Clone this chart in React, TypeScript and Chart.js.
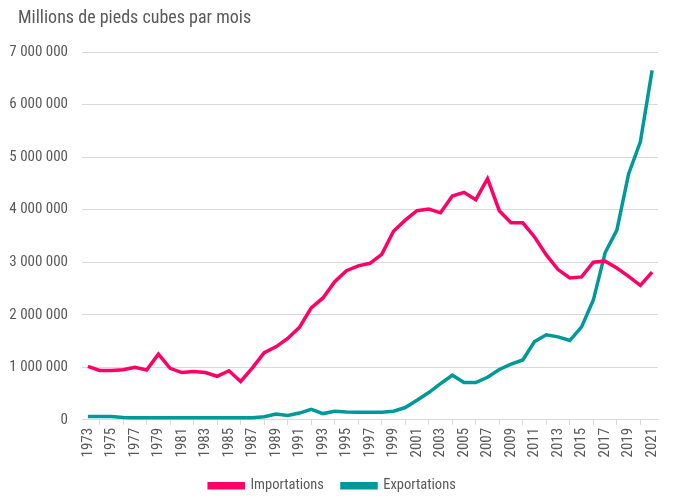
import { useEffect, useRef } from "react";
import { Chart, registerables } from "chart.js";

Chart.register(...registerables);

const TITLE = "Millions de pieds cubes par mois";

const years = [
  "1973", "1974", "1975", "1976", "1977", "1978", "1979", "1980", "1981", "1982",
  "1983", "1984", "1985", "1986", "1987", "1988", "1989", "1990", "1991", "1992",
  "1993", "1994", "1995", "1996", "1997", "1998", "1999", "2000", "2001", "2002",
  "2003", "2004", "2005", "2006", "2007", "2008", "2009", "2010", "2011", "2012",
  "2013", "2014", "2015", "2016", "2017", "2018", "2019", "2020", "2021",
];

// values in millions of cubic feet per month
const importations = [
  1020000, 940000, 940000, 955000, 1000000, 950000, 1250000, 980000, 900000, 920000,
  900000, 830000, 935000, 730000, 990000, 1280000, 1390000, 1550000, 1760000, 2130000,
  2320000, 2630000, 2840000, 2930000, 2980000, 3150000, 3590000, 3800000, 3980000, 4010000,
  3940000, 4260000, 4330000, 4190000, 4590000, 3980000, 3750000, 3750000, 3480000, 3140000,
  2860000, 2700000, 2720000, 3000000, 3020000, 2890000, 2730000, 2560000, 2810000,
];

const exportations = [
  63000, 63000, 63000, 45000, 40000, 40000, 40000, 40000, 40000, 40000,
  40000, 40000, 40000, 40000, 40000, 60000, 110000, 85000, 130000, 200000,
  120000, 165000, 150000, 145000, 145000, 145000, 165000, 235000, 375000, 520000,
  690000, 850000, 710000, 710000, 810000, 960000, 1060000, 1140000, 1490000, 1620000,
  1580000, 1510000, 1770000, 2280000, 3180000, 3610000, 4680000, 5290000, 6650000,
];

const yTicks = [0, 1000000, 2000000, 3000000, 4000000, 5000000, 6000000, 7000000];

const FONT = "'Roboto Condensed', 'Liberation Sans Narrow', 'DejaVu Sans Condensed', Roboto";
const TEXT = "#595959";
const GRID = "#d9d9d9";
const PINK = "#ff0066";
const TEAL = "#009999";

const titlePlugin = {
  id: "topTitle",
  afterDraw(chart: Chart) {
    const ctx = chart.ctx;
    ctx.save();
    ctx.font = "18px " + FONT;
    ctx.fillStyle = TEXT;
    ctx.textBaseline = "middle";
    ctx.textAlign = "left";
    ctx.fillText(TITLE, 18, 18);
    ctx.restore();
  },
};

const fmt = (v: number) => String(v).replace(/\B(?=(\d{3})+(?!\d))/g, " ");

export default function App() {
  const chartRef = useRef<HTMLCanvasElement>(null);
  const chartInstance = useRef<Chart | null>(null);

  useEffect(() => {
    document.body.style.margin = "0";
    if (!chartRef.current) return;
    if (chartInstance.current) chartInstance.current.destroy();
    const ctx = chartRef.current.getContext("2d");
    if (!ctx) return;

    Chart.defaults.font.family = FONT;
    Chart.defaults.color = TEXT;

    chartInstance.current = new Chart(ctx, {
      type: "line",
      data: {
        labels: years,
        datasets: [
          {
            label: "Importations",
            data: importations,
            borderColor: PINK,
            backgroundColor: PINK,
            borderWidth: 3.5,
            pointRadius: 0,
            tension: 0,
          },
          {
            label: "Exportations",
            data: exportations,
            borderColor: TEAL,
            backgroundColor: TEAL,
            borderWidth: 3.5,
            pointRadius: 0,
            tension: 0,
          },
        ],
      },
      options: {
        responsive: false,
        animation: false,
        layout: { padding: { top: 52, left: 7, right: 17, bottom: 0 } },
        plugins: {
          title: { display: false },
          tooltip: { enabled: false },
          legend: {
            position: "bottom",
            labels: {
              boxWidth: 34,
              boxHeight: 4,
              padding: 18,
              font: { size: 14.5 },
              color: TEXT,
            },
          },
        },
        scales: {
          x: {
            offset: true,
            grid: {
              offset: true,
              drawOnChartArea: false,
              drawTicks: true,
              tickLength: 5,
              color: GRID,
            },
            border: { display: true, color: GRID },
            ticks: {
              autoSkip: false,
              minRotation: 90,
              maxRotation: 90,
              padding: 3,
              font: { size: 15 },
              color: TEXT,
              callback: (_v, i) => (i % 2 === 0 ? years[i] : null),
            },
          },
          y: {
            min: 0,
            max: 7000000,
            afterBuildTicks: (axis) => {
              axis.ticks = yTicks.map((v) => ({ value: v }));
            },
            afterFit: (axis) => {
              axis.width = 75;
            },
            grid: { color: GRID, drawTicks: false },
            border: { display: false },
            ticks: {
              padding: 14,
              font: { size: 15 },
              color: TEXT,
              callback: (v) => fmt(Number(v)),
            },
          },
        },
      },
      plugins: [titlePlugin],
    });

    return () => {
      if (chartInstance.current) {
        chartInstance.current.destroy();
        chartInstance.current = null;
      }
    };
  }, []);

  return (
    <div style={{ width: 675, height: 503, background: "#fff" }}>
      <canvas ref={chartRef} width={675} height={503} />
    </div>
  );
}
